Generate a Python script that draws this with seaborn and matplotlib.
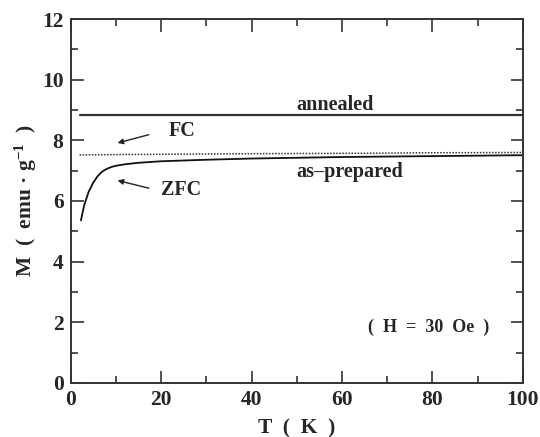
import matplotlib
matplotlib.use("Agg")
import matplotlib.pyplot as plt
from matplotlib.ticker import MultipleLocator
import seaborn as sns
import pandas as pd

# ---- data ----
T_annealed = [2, 100]
M_annealed = [8.85, 8.85]

T_fc = [2, 10, 20, 40, 60, 80, 100]
M_fc = [7.52, 7.53, 7.54, 7.56, 7.57, 7.59, 7.60]

T_zfc = [2.3, 3, 4, 5, 6, 7, 8, 9, 10, 12, 15, 20, 30, 40, 60, 80, 100]
M_zfc = [5.36, 5.85, 6.3, 6.6, 6.82, 6.97, 7.06, 7.12, 7.16, 7.21, 7.26, 7.31, 7.36, 7.40, 7.45, 7.48, 7.51]

x_ticks = [0, 20, 40, 60, 80, 100]
y_ticks = [0, 2, 4, 6, 8, 10, 12]

sns.set_style("ticks")
plt.rcParams['font.family'] = ['Liberation Serif', 'DejaVu Serif']
plt.rcParams['font.weight'] = 'bold'
plt.rcParams['mathtext.default'] = 'regular'

fig = plt.figure(figsize=(5.4, 4.37), dpi=100)
ax = fig.add_axes([0.1306, 0.1236, 0.9685 - 0.1306, 0.9565 - 0.1236])

df_a = pd.DataFrame({"T": T_annealed, "M": M_annealed})
df_f = pd.DataFrame({"T": T_fc, "M": M_fc})
df_z = pd.DataFrame({"T": T_zfc, "M": M_zfc})

sns.lineplot(data=df_a, x="T", y="M", ax=ax, color="#333333", lw=1.6)
sns.lineplot(data=df_f, x="T", y="M", ax=ax, color="#333333", lw=1.1, linestyle=(0, (1, 1)))
sns.lineplot(data=df_z, x="T", y="M", ax=ax, color="#111111", lw=1.3)

ax.set_xlim(0, 100)
ax.set_ylim(0, 12)
ax.set_xticks(x_ticks)
ax.set_yticks(y_ticks)
ax.xaxis.set_minor_locator(MultipleLocator(10))
ax.yaxis.set_minor_locator(MultipleLocator(1))
ax.tick_params(which='both', direction='in', top=True, right=True, width=1.2, color="#333333")
ax.tick_params(which='major', length=9, labelsize=15.5, pad=5)
ax.tick_params(which='minor', length=5)
for lab in ax.get_xticklabels() + ax.get_yticklabels():
    lab.set_fontweight('bold')
for s in ax.spines.values():
    s.set_linewidth(1.4)
    s.set_color("#333333")

ax.set_xlabel("T  (  K  )", fontsize=15.5, fontweight='bold', labelpad=6)
ax.set_ylabel("M  (  emu \u00b7 g$^{-1}$  )", fontsize=15.5, fontweight='bold', labelpad=2)

ax.text(58.4, 9.17, "annealed", fontsize=14.5, fontweight='bold', ha='center', va='center')
ax.text(61.7, 6.96, "as\u2013prepared", fontsize=14.5, fontweight='bold', ha='center', va='center')
ax.text(24.6, 8.3, "FC", fontsize=14.5, fontweight='bold', ha='center', va='center')
ax.text(24.4, 6.37, "ZFC", fontsize=14.5, fontweight='bold', ha='center', va='center')
ax.text(79.1, 1.85, "(  H  =  30  Oe  )", fontsize=13, fontweight='bold', ha='center', va='center')

ax.annotate("", xy=(9.8, 7.89), xytext=(17.9, 8.21),
            arrowprops=dict(arrowstyle="-|>", color="#222222", lw=1.0, mutation_scale=8))
ax.annotate("", xy=(9.8, 6.70), xytext=(17.9, 6.40),
            arrowprops=dict(arrowstyle="-|>", color="#222222", lw=1.0, mutation_scale=8))

fig.savefig("out.png", dpi=100)
